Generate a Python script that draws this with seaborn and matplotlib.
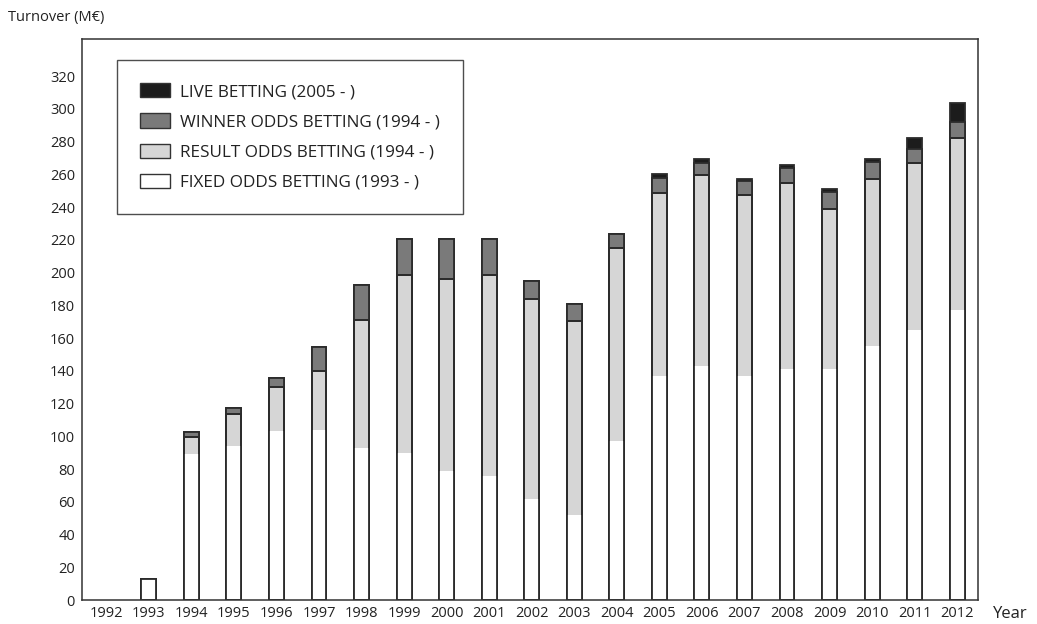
import numpy as np
import pandas as pd
import seaborn as sns
import matplotlib
matplotlib.use("Agg")
import matplotlib.pyplot as plt
from matplotlib.patches import Patch

# Turnover by betting product (M€)
years = [str(y) for y in range(1992, 2013)]
fixed_odds = [0, 13, 89, 94, 103, 104, 93, 90, 79, 76, 62, 52, 97, 137, 143, 137, 141, 141, 155, 165, 177]
result_odds = [0, 0, 10.5, 19.6, 27.1, 36.1, 77.9, 108.4, 117.2, 122.4, 121.7, 118.7, 117.8,
               111.8, 116.6, 110.2, 114, 97.6, 102.4, 101.8, 105.1]
winner_odds = [0, 0, 3.1, 3.7, 5.7, 14.5, 21.3, 22.3, 24.5, 22, 11, 10.4, 8.7,
               9.2, 7.6, 8.6, 9, 10.4, 10.2, 8.5, 9.9]
live_betting = [0, 0, 0, 0, 0, 0, 0, 0, 0, 0, 0, 0, 0,
                2.5, 2.4, 1.6, 1.7, 1.9, 2.0, 6.8, 11.5]

legend_labels = ["LIVE BETTING (2005 - )", "WINNER ODDS BETTING (1994 - )",
                 "RESULT ODDS BETTING (1994 - )", "FIXED ODDS BETTING (1993 - )"]
colors = ["#1c1c1c", "#7a7a7a", "#d6d6d6", "#ffffff"]
edge = "#2b2b2b"

df = pd.DataFrame({"year": years, "fixed": fixed_odds, "result": result_odds,
                   "winner": winner_odds, "live": live_betting})
df["cum_fixed"] = df["fixed"]
df["cum_result"] = df["cum_fixed"] + df["result"]
df["cum_winner"] = df["cum_result"] + df["winner"]
df["cum_live"] = df["cum_winner"] + df["live"]

sns.set_style("white")
plt.rcParams["font.family"] = ["Open Sans", "DejaVu Sans"]

fig = plt.figure(figsize=(10.37, 6.24), dpi=100)
ax = fig.add_axes([82 / 1037, 1 - 600 / 624, (978 - 82) / 1037, (600 - 38.5) / 624])

bw = 0.35
common = dict(x="year", order=years, ax=ax, width=bw, saturation=1)
# stacked layers, tallest first
sns.barplot(data=df, y="cum_live", color=colors[0], edgecolor=edge, linewidth=1.3, **common)
sns.barplot(data=df, y="cum_winner", color=colors[1], edgecolor=edge, linewidth=1.3, **common)
sns.barplot(data=df, y="cum_result", color=colors[2], edgecolor=edge, linewidth=1.3, **common)
sns.barplot(data=df, y="cum_fixed", color=colors[3], edgecolor="none", linewidth=0, **common)
# outline of the fixed + result part
sns.barplot(data=df, y="cum_result", fill=False, edgecolor=edge, linewidth=1.3, **common)

# years without turnover get no mark at all
for p in ax.patches:
    if p.get_height() == 0:
        p.set_visible(False)

ax.set_xlim(-0.57, 20.49)
ax.set_ylim(0, 343)
ax.set_yticks(np.arange(0, 321, 20))
ax.set_xlabel("")
ax.set_ylabel("")
ax.tick_params(axis="both", length=0, labelsize=10.5, colors="#222222")
ax.tick_params(axis="x", pad=4)
ax.tick_params(axis="y", pad=5)
for s in ax.spines.values():
    s.set_visible(True)
    s.set_color("#333333")
    s.set_linewidth(1.1)
ax.grid(False)

fig.text(8 / 1037, 1 - 18 / 624, "Turnover (M€)", fontsize=10.5, color="#222222",
         ha="left", va="center")
fig.text(993 / 1037, 1 - 614 / 624, "Year", fontsize=12, color="#222222",
         ha="left", va="center")

handles = [Patch(facecolor=c, edgecolor="#333333", linewidth=1.0) for c in colors]
leg = ax.legend(handles, legend_labels, loc="upper left",
                bbox_to_anchor=((117 - 82) / 896, 1 - (60 - 38.5) / 561.5),
                frameon=True, fancybox=False, fontsize=12.3, handlelength=1.75,
                handleheight=0.9, handletextpad=0.6, labelspacing=0.78,
                borderpad=1.35, borderaxespad=0, edgecolor="#222222")
leg.get_frame().set_linewidth(1.0)
for t in leg.get_texts():
    t.set_color("#222222")

fig.savefig("out.png", dpi=100)
